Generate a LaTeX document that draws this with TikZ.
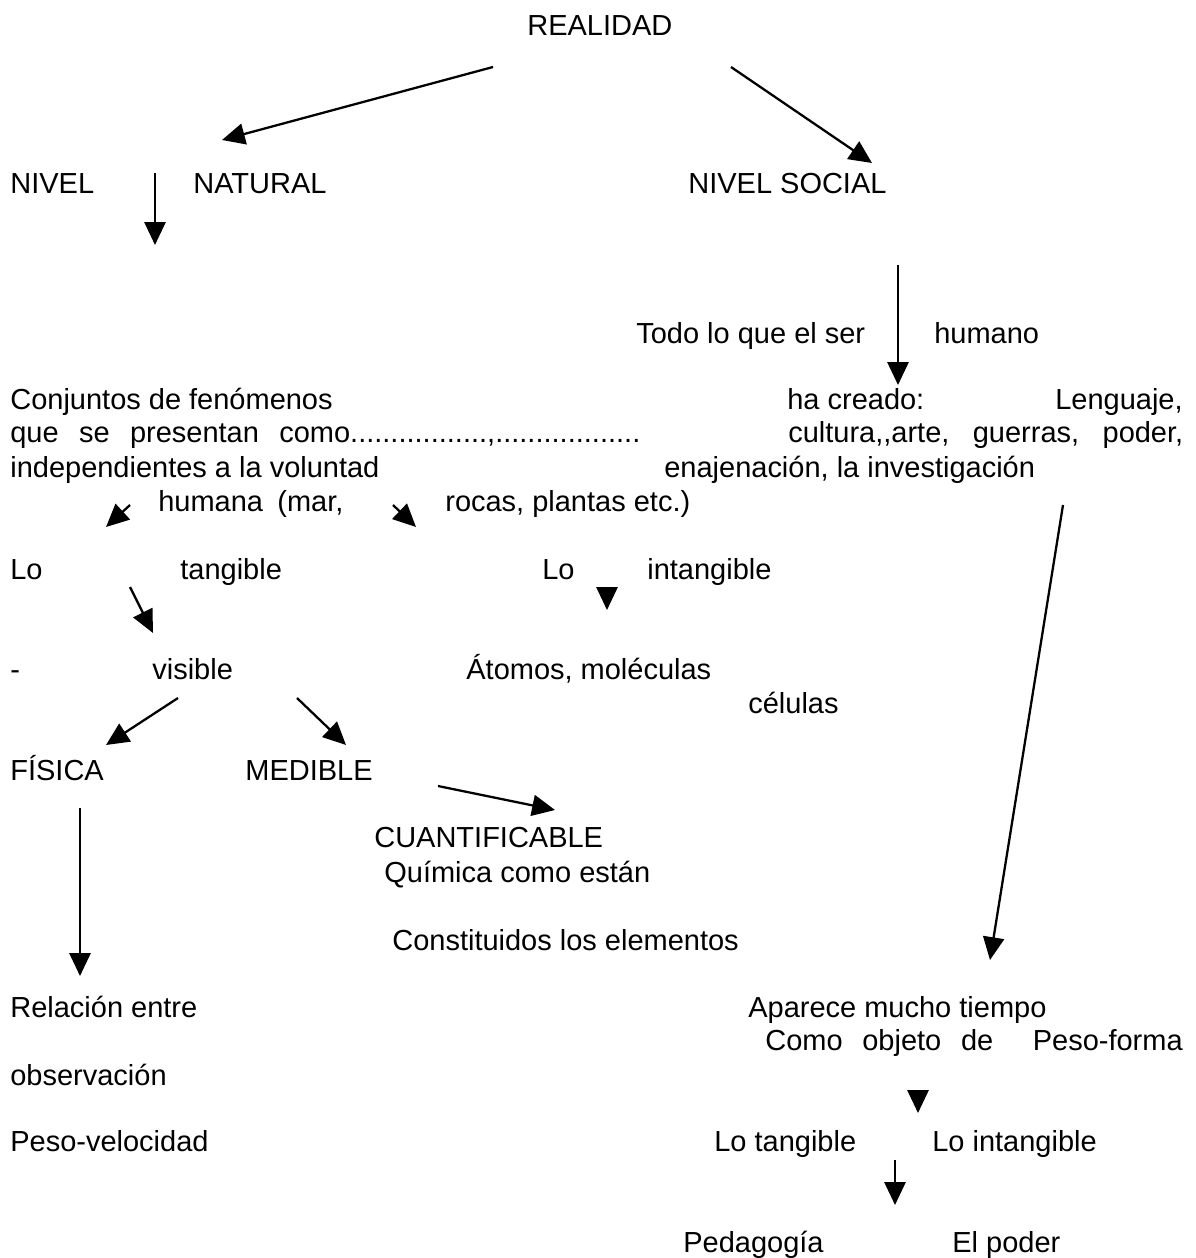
\documentclass[tikz,border=0pt]{standalone}
\usepackage{fontspec}
\setmainfont{Liberation Sans}
\usetikzlibrary{arrows.meta}

\begin{document}
\begin{tikzpicture}[x=0.02cm, y=-0.02cm,
    every node/.style={anchor=base west, inner sep=0pt, font=\fontsize{16.5}{19}\selectfont},
    flecha/.style={-{Triangle[length=13pt,width=12pt]}, line width=1.3pt}]

    % Page frame (pixels of the scan)
    \useasboundingbox (0,0) rectangle (1196,1258);

    % Top level
    \node (realidad) at (527,35) {REALIDAD};
    \node (nivelN) at (10,193) {NIVEL};
    \node (natural) at (193,193) {NATURAL};
    \node (nivelS) at (688,193) {NIVEL SOCIAL};

    % Social branch
    \node (todo) at (636,343) {Todo lo que el ser};
    \node (humano) at (934,343) {humano};
    \node (creado) at (787,409) {ha creado:};
    \node (lenguaje) at (1183,409) [anchor=base east] {Lenguaje,};
    \node (cultura) at (788,442) {\makebox[7.9cm][s]{cultura,{},arte, guerras, poder,}};
    \node (enajena) at (664,477) {enajenación, la investigación};

    % Natural branch
    \node (conjuntos) at (10,409) {Conjuntos de fenómenos};
    \node (presentan) at (10,442) {\makebox[12.6cm][s]{que se presentan como.................,..................}};
    \node (indep) at (10,477) {independientes a la voluntad};
    \node (humana) at (158,511) {humana};
    \node (mar) at (277,511) {(mar,};
    \node (rocas) at (445,511) {rocas, plantas etc.)};

    \node (lo1) at (10,579) {Lo};
    \node (tangible) at (180,579) {tangible};
    \node (lo2) at (542,579) {Lo};
    \node (intangible) at (647,579) {intangible};

    \node (guion) at (10,679) {-};
    \node (visible) at (152,679) {visible};
    \node (atomos) at (466,679) {Átomos, moléculas};
    \node (celulas) at (748,713) {células};

    \node (fisica) at (10,780) {FÍSICA};
    \node (medible) at (245,780) {MEDIBLE};
    \node (cuanti) at (374,847) {CUANTIFICABLE};
    \node (quimica) at (384,882) {Química como están};
    \node (constit) at (392,950) {Constituidos los elementos};

    \node (relacion) at (10,1017) {Relación entre};
    \node (observ) at (10,1085) {observación};
    \node (pesovel) at (10,1151) {Peso-velocidad};

    % Lower social part
    \node (aparece) at (748,1017) {Aparece mucho tiempo};
    \node (como) at (765,1050) {\makebox[4.56cm][s]{Como objeto de}};
    \node (pesoforma) at (1183,1050) [anchor=base east] {Peso-forma};
    \node (lotang) at (714,1151) {Lo tangible};
    \node (lointang) at (932,1151) {Lo intangible};
    \node (pedagogia) at (683,1252) {Pedagogía};
    \node (poder) at (952,1252) {El poder};

    % Arrow ends
    \coordinate (r1) at (493,67);   \coordinate (r1e) at (222,140);
    \coordinate (r2) at (731,67);   \coordinate (r2e) at (872,163);
    \coordinate (n1) at (155,173);  \coordinate (n1e) at (155,245);
    \coordinate (s1) at (898,265);  \coordinate (s1e) at (898,385);
    \coordinate (h1) at (130,505);  \coordinate (h1e) at (106,527);
    \coordinate (h2) at (393,505);  \coordinate (h2e) at (416,527);
    \coordinate (t1) at (130,587);  \coordinate (t1e) at (153,633);
    \coordinate (i1) at (607,588);  \coordinate (i1e) at (607,610);
    \coordinate (v1) at (178,698);  \coordinate (v1e) at (106,745);
    \coordinate (v2) at (297,698);  \coordinate (v2e) at (346,745);
    \coordinate (m1) at (438,786);  \coordinate (m1e) at (555,810);
    \coordinate (f1) at (80,808);   \coordinate (f1e) at (80,976);
    \coordinate (e1) at (1063,505); \coordinate (e1e) at (990,960);
    \coordinate (p1) at (918,1092); \coordinate (p1e) at (918,1113);
    \coordinate (l1) at (895,1160); \coordinate (l1e) at (895,1205);

    % Arrows
    \foreach \a in {r1,r2,n1,s1,h1,h2,t1,i1,v1,v2,m1,f1,e1,p1,l1}
        \draw[flecha] (\a) -- (\a e);

\end{tikzpicture}
\end{document}
